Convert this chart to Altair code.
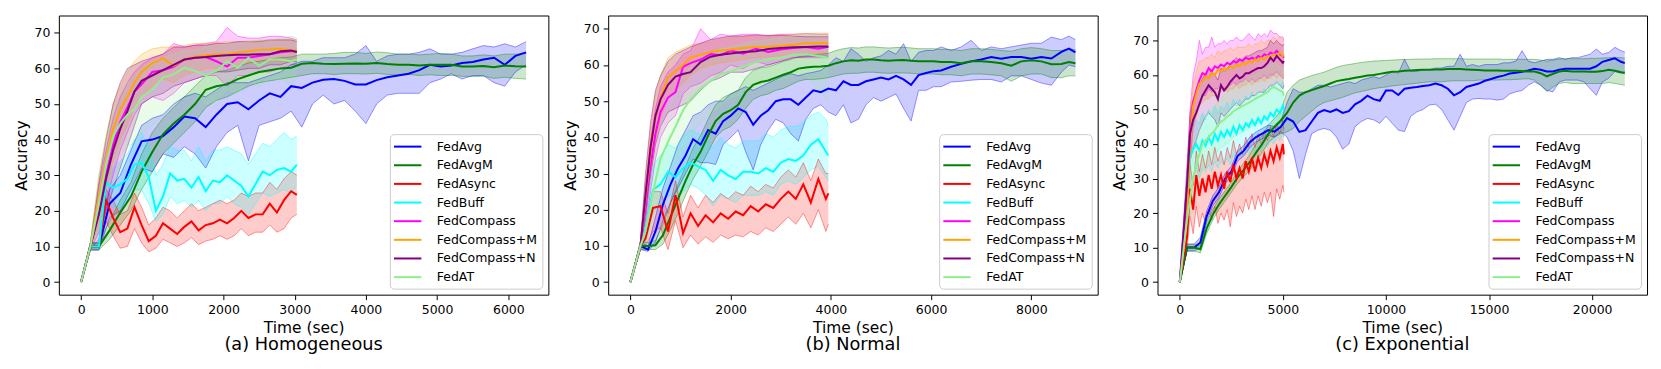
import altair as alt
import pandas as pd

FONT = "DejaVu Sans"
SERIES = ["FedAvg", "FedAvgM", "FedAsync", "FedBuff", "FedCompass",
          "FedCompass+M", "FedCompass+N", "FedAT"]
COLORS = ["#0000ff", "#008000", "#ff0000", "#00ffff", "#ff00ff",
          "#ffa500", "#800080", "#90ee90"]
Y_TICKS = [0, 10, 20, 30, 40, 50, 60, 70]

# ---------------- Panel (a) Homogeneous ----------------
A_T_SYNC = [0, 130, 250, 400, 550, 700, 850, 1000, 1150, 1300, 1450, 1600, 1750, 1900, 2050,
            2200, 2350, 2500, 2650, 2800, 2950, 3100, 3250, 3400, 3550, 3700, 3850, 4000,
            4150, 4300, 4450, 4600, 4750, 4900, 5050, 5200, 5350, 5500, 5650, 5800, 5950,
            6100, 6250]
A_FEDAVG = [0, 10, 10, 22, 25, 33, 39.5, 40, 41, 43.5, 46.5, 46, 43.5, 47, 50,
            50.5, 48.5, 51, 53, 52, 55, 54.5, 56, 56.8, 57, 56.5, 55.5, 55.5, 56.7, 57.5,
            58, 58.5, 59.5, 61, 60.5, 60.8, 61.5, 61.8, 62.5, 63, 61, 63.5, 64.5]
A_FEDAVG_LO = [0, 9, 9, 18, 20, 26, 32, 31, 36, 35, 38, 36, 32, 38, 42,
               44, 34, 44, 45, 46, 48, 43.5, 50, 52.5, 50, 51, 48, 44.5, 50, 52.5,
               53, 53, 53, 56, 57, 58.5, 57, 58, 58, 56, 55, 59, 61]
A_FEDAVG_HI = [0, 11, 11, 26, 30, 37, 44, 46, 47, 50, 52, 53, 52, 54, 56,
               56, 56, 57, 58, 59, 61, 62, 62, 63, 63, 63, 64, 66.4, 62, 63.5,
               64, 64, 64.5, 65.5, 64, 64, 64.5, 65.5, 66.4, 66, 66.9, 66, 67.5]
A_FEDAVGM = [0, 10, 10, 14.5, 19.5, 24, 31, 36.5, 41.5, 44.5, 47, 50, 54, 55, 55.5,
             57, 58, 59, 59.5, 60, 60.2, 61.3, 61.5, 61.3, 61.2, 61.3, 61.4, 61.3, 61.5, 61.2,
             61, 61, 60.8, 61, 61, 61, 60.5, 60.5, 60.7, 60.3, 60.8, 60.6, 60.5]
A_FEDAVGM_LO = [0, 9, 9, 12, 16, 20, 26, 31, 36, 39, 42, 45, 49, 51, 52,
                53.5, 55, 56, 56.5, 57, 57.5, 58, 58.5, 58.5, 58.3, 58.5, 58.5, 58.4, 58.6, 58.3,
                58.2, 58.3, 58, 58.2, 58, 58, 57.8, 57.7, 57.8, 57.2, 57.5, 57.2, 57]
A_FEDAVGM_HI = [0, 11, 11, 17, 23, 28, 36, 42, 46, 49, 52, 55, 58, 59, 59.5,
                60.5, 61.5, 62, 62.5, 63, 63.2, 64, 64, 64, 64.2, 64.5, 64.5, 64.2, 64.6, 64.4,
                64, 64, 63.8, 64, 64.2, 64, 63.5, 63.5, 63.8, 63.5, 64, 64, 64.2]

A_T_ASYNC = [0, 130, 250, 350, 450, 550, 650, 750, 850, 950, 1050, 1150, 1250, 1350, 1450,
             1550, 1650, 1750, 1850, 1950, 2050, 2150, 2250, 2350, 2450, 2550, 2650, 2750,
             2850, 2950, 3030]
A_FEDASYNC = [0, 10, 10, 23, 18, 14, 15, 21, 16, 11.5, 13, 16.5, 15, 13.5, 15.5,
              17, 14.5, 16, 16.5, 17.5, 16.5, 18, 20, 18, 19, 19, 22, 19.5, 23, 25.5, 24.5]
A_FEDASYNC_LO = [0, 9, 9, 17, 13, 9.5, 10, 15, 11, 8.5, 9.5, 12, 11, 10, 11,
                 12.5, 10.5, 11.5, 12, 13, 12, 13, 15, 13, 14, 14, 16, 14, 15, 18, 19]
A_FEDASYNC_HI = [0, 11, 11, 26, 23, 19, 20, 25, 21, 16, 18, 21, 20, 18, 20,
                 22, 20, 21, 22, 23, 22, 23, 25, 24, 25, 25, 28, 26, 29, 31, 30]
A_FEDBUFF = [0, 10, 10, 28, 26.5, 27.5, 29, 33, 33.5, 29.5, 20, 24, 30.5, 28.5, 29,
             26.5, 29.5, 25.5, 28.5, 28, 30, 28.5, 27, 24, 27.5, 31, 30, 31.5, 32, 31, 33]
A_FEDBUFF_LO = [0, 9, 9, 22, 21, 21, 23, 26, 26, 22, 17, 19, 24, 22, 23,
                21, 23, 20, 22, 22, 24, 22, 21, 19, 22, 25, 24, 25, 26, 25, 27]
A_FEDBUFF_HI = [0, 11, 11, 33, 32, 34, 36, 40, 42, 38, 30, 33, 38, 37, 37,
                34, 38, 34, 37, 37, 38, 37, 36, 33, 36, 39, 38, 40, 42, 40, 41]

A_T_COMP = [0, 130, 250, 350, 450, 550, 650, 750, 850, 1000, 1150, 1300, 1450, 1600, 1750,
            1900, 2050, 2200, 2350, 2500, 2650, 2800, 2950, 3030]
A_FEDCOMPASS = [0, 10, 20, 30, 38.5, 45, 49, 53.5, 55.5, 59, 59.5, 60.4, 62.5, 63, 63.2,
                62, 60.5, 63, 63, 63.5, 64, 64.5, 64.8, 64.8]
A_FEDCOMPASS_LO = [0, 9, 14, 22, 30, 37, 42, 47, 50, 52, 51, 53, 56, 57, 58,
                   58, 55, 58, 58, 59, 59, 60, 61, 61]
A_FEDCOMPASS_HI = [0, 11, 27, 37, 46, 52, 56, 59, 61, 63, 64, 67, 66, 66.5, 67,
                   67.5, 71.5, 69, 68.5, 68.5, 69, 69, 68.5, 68]
A_FEDCOMPASS_M = [0, 10, 24, 34, 43, 48.5, 52, 56, 59, 61.5, 62.8, 60.7, 62.5, 63.3, 63.7,
                  64, 64, 64.5, 64.8, 65.2, 65.3, 65.5, 65, 65]
A_FEDCOMPASS_M_LO = [0, 9, 16, 26, 34, 40, 44, 49, 52, 55, 57, 56, 58, 59, 60,
                     60, 60.5, 61, 61.5, 62, 62, 62, 62, 62]
A_FEDCOMPASS_M_HI = [0, 11, 30, 41, 50, 55, 59, 62, 64, 65.5, 66, 66, 66.5, 67, 67,
                     67.2, 67.5, 67.5, 67.7, 67.8, 68, 68, 68, 68]
A_FEDCOMPASS_N = [0, 10, 19, 29, 37, 43, 48, 53.5, 56.5, 58, 59.5, 61, 62.5, 63, 63.2,
                  63.5, 63.7, 63.8, 63.8, 64, 64, 64.8, 65, 64.6]
A_FEDCOMPASS_N_LO = [0, 9, 12, 20, 26, 32, 38, 44, 50, 52, 53, 55, 56, 57, 58,
                     59, 59, 59.5, 60, 60, 61, 61, 62, 62]
A_FEDCOMPASS_N_HI = [0, 11, 28, 40, 50, 56, 60, 61, 62, 63, 64, 66, 66, 66.5, 66.5,
                     67, 67, 67.5, 67.5, 67.5, 68, 68, 68, 67.5]
A_FEDAT = [0, 10, 22, 33, 41, 44.5, 47, 48.5, 52, 54, 57.5, 58.3, 60.2, 59.3, 58,
           59.3, 62, 60.2, 63, 60.7, 62.5, 62.5, 62, 62.5]
A_FEDAT_LO = [0, 9, 15, 25, 33, 36, 38, 39, 42, 44, 47, 49, 52, 53, 50,
              51, 54, 53, 57, 55, 57, 57, 56, 57]
A_FEDAT_HI = [0, 11, 30, 40, 48, 53, 56, 58, 60, 62, 63, 64, 65, 65, 66,
              66.5, 67, 67, 67.5, 68, 68, 68.5, 69, 68.5]

# ---------------- Panel (b) Normal ----------------
B_T_SYNC = [0, 200, 350, 500, 650, 800, 950, 1100, 1250, 1400, 1550, 1700, 1850, 2000, 2150,
            2300, 2450, 2600, 2750, 2900, 3050, 3200, 3350, 3500, 3650, 3800, 3950, 4100,
            4250, 4400, 4550, 4700, 4850, 5000, 5150, 5300, 5450, 5600, 5750, 5900, 6050,
            6200, 6400, 6600, 6800, 7000, 7200, 7400, 7600, 7800, 8000, 8200, 8400, 8600,
            8750, 8880]
B_FEDAVG = [0, 10, 9, 14, 21.5, 27, 31.5, 35, 39.5, 38, 42, 41, 44.5, 46, 48,
            47, 43.5, 46, 47.5, 50, 50.5, 50.5, 49, 51, 53, 52.5, 53.5, 53, 55.5, 54.5,
            54.5, 55.5, 56, 56.5, 56, 57, 56, 54.5, 57.2, 57.8, 58.3, 58.5, 59.5, 60.3, 61,
            61.5, 62.2, 61.7, 62.2, 62.2, 61.7, 62.2, 61.8, 63.6, 64.5, 63.5]
B_FEDAVG_LO = [0, 9, 8.5, 11, 17, 22, 26, 30, 34, 33, 33, 32.5, 38, 40, 42,
               36, 31, 38, 42, 45, 44, 41, 39, 45, 48, 49, 47, 46, 49, 44,
               45, 49, 51, 50, 51, 52, 48, 44.5, 53, 53, 54, 54, 55.3, 55.5, 55.8,
               56, 56, 55.3, 57, 57, 56, 55, 54.4, 58, 60, 59.5]
B_FEDAVG_HI = [0, 11, 10, 18, 26, 32, 38, 42, 46, 47, 49, 50, 50, 52, 53,
               54, 53, 54, 55, 56, 57, 57.6, 57, 57.6, 58, 58.5, 60, 62, 61, 64.5,
               63, 61, 62, 62.5, 64, 63, 65.9, 61, 63.5, 64, 64, 65, 64, 65, 66.8,
               64, 65, 64.5, 65, 65.5, 66, 66, 67.7, 67, 68, 67]
B_FEDAVGM = [0, 10, 10, 10.2, 13, 18, 23, 28, 32.5, 36, 40.5, 44.5, 46.5, 47.5, 49,
             52.5, 54.5, 55.3, 55.7, 56.5, 57.3, 58, 59, 59.3, 59.5, 59.6, 59.8, 60.5, 61, 61.3,
             61.2, 61.5, 61.5, 61.3, 61.2, 61.3, 61.4, 61.2, 61, 61, 61, 60.8, 60.8, 60.5, 61,
             61, 60.8, 60.5, 59.8, 61, 61.3, 61, 60.2, 60.3, 60.8, 60.5]
B_FEDAVGM_LO = [0, 9, 9, 9, 10.5, 14.5, 19, 24, 28.5, 32, 36, 40, 42, 43, 45,
                48, 50.5, 51.5, 52, 53, 53.5, 54.5, 55.5, 56, 56, 56.2, 56.5, 57, 57.5, 57.7,
                57.7, 58, 58, 57.8, 57.7, 57.8, 57.8, 57.7, 57.5, 57.5, 57.5, 57.3, 57.3, 57, 57.5,
                57.5, 57.3, 57, 55.5, 57, 57.5, 57.5, 56.5, 56.5, 57, 57]
B_FEDAVGM_HI = [0, 11, 11, 11.5, 16, 22, 27, 32, 37, 40.5, 45, 49, 51, 52, 53,
                56.5, 58.5, 59.2, 59.5, 60.2, 61, 61.5, 62.3, 62.5, 62.8, 63, 63.2, 64, 64.5, 64.8,
                64.7, 65, 65, 64.8, 64.7, 64.8, 64.9, 64.7, 64.5, 64.5, 64.5, 64.3, 64.3, 64, 64.5,
                64.5, 64.3, 64, 63.8, 64.5, 64.8, 64.5, 64, 64, 64.5, 64.2]

B_T_ASYNC = [0, 200, 300, 450, 600, 750, 900, 1050, 1200, 1350, 1500, 1650, 1800, 1950, 2100,
             2250, 2400, 2550, 2700, 2850, 3000, 3150, 3300, 3450, 3600, 3750, 3900, 3950]
B_FEDASYNC = [0, 10, 12, 20.5, 21, 14, 24, 13.5, 19, 15.5, 18.5, 16.5, 19, 17.5, 19.5,
              18.5, 21, 19.5, 21.5, 20.5, 23, 25, 23, 27, 22, 28.5, 23, 24.5]
B_FEDASYNC_LO = [0, 9, 10, 14, 15, 9, 17, 9.5, 13, 10.5, 12.5, 11, 13, 12, 13,
                 12.5, 14, 13, 15, 14, 16, 18, 16, 19, 15, 20, 14, 16]
B_FEDASYNC_HI = [0, 11, 14, 25, 25, 19, 28, 18, 24, 20.5, 24, 22, 24.5, 23, 25,
                 24, 26.5, 25, 27, 26, 29, 31, 29, 33, 28, 34, 30, 30]
B_FEDBUFF = [0, 10, 15, 25.5, 27, 30.5, 29, 31.5, 33, 32, 31, 28, 31, 29.5, 28.5,
             30.5, 30.5, 30, 31.5, 30.5, 33, 34, 33.5, 35, 38, 39.5, 36, 35]
B_FEDBUFF_LO = [0, 9, 11, 19, 21, 24, 23, 25, 27, 26, 24, 21, 24, 23, 22,
                24, 24, 24, 25, 24, 27, 28, 27, 29, 31, 32, 29, 28]
B_FEDBUFF_HI = [0, 11, 19, 32, 35, 38, 37, 40, 42, 41, 40, 37, 40, 38, 37,
                39, 39, 39, 41, 40, 42, 43, 43, 44, 46, 47, 45, 43]

B_T_COMP = [0, 200, 300, 400, 500, 600, 750, 900, 1050, 1200, 1400, 1600, 1800, 2000, 2250,
            2500, 2750, 3000, 3250, 3500, 3750, 3950]
B_FEDCOMPASS = [0, 10, 20, 32, 41, 47, 51, 52.5, 59.5, 60.5, 61.5, 63, 62.7, 64, 63.1,
                64.5, 63.6, 64.3, 64.7, 65, 64.5, 65]
B_FEDCOMPASS_LO = [0, 9, 14, 25, 34, 40, 44, 46, 52, 54, 55, 57, 58, 60, 59,
                   61, 60, 61, 62, 62, 62, 62]
B_FEDCOMPASS_HI = [0, 11, 26, 39, 48, 54, 58, 60, 63, 64, 70, 67, 68.5, 68, 68.5,
                   68.5, 68, 68.5, 68.5, 68.7, 68.5, 68.5]
B_FEDCOMPASS_M = [0, 10, 23, 36, 45.5, 51, 56.5, 58.3, 60, 62, 62.8, 63.6, 64, 64.3, 64.7,
                  65, 65, 65.3, 65.6, 66, 66, 66]
B_FEDCOMPASS_M_LO = [0, 9, 18, 30, 39, 45, 51, 53, 55, 57, 59, 60, 60.5, 61, 61.5,
                     62, 62.3, 62.5, 62.8, 63, 63.2, 63.2]
B_FEDCOMPASS_M_HI = [0, 11, 28, 42, 52, 57, 62, 63.5, 64.5, 65.5, 66, 66.5, 67, 67.5, 67.8,
                     68, 68.2, 68.3, 68.5, 68.7, 68.8, 68.8]
B_FEDCOMPASS_N = [0, 10, 24, 37, 46, 50.5, 54.5, 56.8, 57.5, 58, 60.8, 62.3, 62.8, 63.2, 63.6,
                  63.8, 64.4, 64.7, 64.9, 65, 65.1, 65.1]
B_FEDCOMPASS_N_LO = [0, 9, 17, 29, 38, 43, 47, 48, 49, 50, 53, 55.5, 56.5, 58, 58,
                     59, 60, 61, 62, 62.3, 62.4, 62.4]
B_FEDCOMPASS_N_HI = [0, 11, 30, 44, 53, 57, 61, 63, 64, 65, 66, 67, 67.5, 68, 68,
                     68.3, 68.2, 68.2, 68, 67.8, 67.8, 67.8]
B_FEDAT = [0, 10, 14, 21, 28, 34, 38.8, 43, 47.5, 50.5, 53.5, 55.5, 57.5, 58.3, 59.5,
           60.8, 61.5, 62, 62.8, 63, 62.5, 62]
B_FEDAT_LO = [0, 9, 10, 15, 20, 25, 29, 33, 37, 40.5, 44, 46.5, 49, 51, 52,
              54.5, 55.5, 56, 57, 57.5, 53, 50]
B_FEDAT_HI = [0, 11, 19, 28, 36, 43, 48, 53, 57, 59.5, 62, 63.5, 64.5, 65, 66,
              66.5, 67, 67.5, 68, 68.5, 68.5, 68.5]

# ---------------- Panel (c) Exponential ----------------
C_T_SYNC = [0, 350, 700, 1000, 1300, 1600, 1900, 2200, 2500, 2800, 3100, 3400, 3700, 4000,
            4300, 4600, 4900, 5200, 5500, 5800, 6100, 6400, 6700, 7000, 7300, 7600, 7900,
            8200, 8500, 8800, 9100, 9400, 9700, 10000, 10300, 10600, 10900, 11200, 11500,
            11800, 12100, 12400, 12700, 13000, 13300, 13600, 13900, 14200, 14500, 14800,
            15100, 15400, 15700, 16000, 16300, 16600, 16900, 17200, 17500, 17800, 18100,
            18400, 18700, 19000, 19300, 19600, 19900, 20200, 20500, 20800, 21100, 21400,
            21580]
C_FEDAVG = [0, 10, 10, 11.5, 19, 23.5, 26, 30, 32, 36.5, 38, 40.5, 42, 43, 44,
            43.6, 45, 47.5, 46.5, 43.5, 44, 46.5, 49, 49.8, 49.3, 50, 49, 49.5, 51.5, 52.5,
            54, 53, 52.5, 55.5, 55.5, 54.2, 56, 56.3, 56.5, 56.8, 57, 57.5, 57, 56, 54.1,
            55, 56.5, 57, 57.5, 58.3, 58.8, 59.4, 59.8, 60.4, 60.6, 60.9, 61.3, 61.8, 61.5, 61,
            61, 61.5, 61.8, 61.8, 61.8, 61.8, 61.8, 62.5, 63.8, 64.3, 64.8, 63.8, 63.4]
C_FEDAVG_LO = [0, 9, 9, 10, 17.5, 22, 24.5, 28.5, 30.5, 35, 36.5, 39, 40.5, 41.5, 42.5,
               42, 43.5, 42, 38, 30, 37, 43, 44, 44.5, 44, 42, 38.5, 40, 45, 46.5,
               47.4, 47, 46, 48, 46, 44, 43.6, 48, 49.3, 50, 51.3, 51.5, 50, 47, 44,
               48, 52, 53, 53.2, 53, 53, 52.7, 53, 54.5, 55.1, 55.5, 57, 58, 57, 55.5,
               55.1, 58, 58.5, 58.5, 58.5, 58, 56, 54.1, 58, 59, 61, 60.5, 61]
C_FEDAVG_HI = [0, 11, 11, 13, 20.5, 25, 27.5, 31.5, 33.5, 38, 39.5, 42, 43.5, 44.5, 45.5,
               45, 46.5, 52, 56, 55, 55, 56, 57, 57, 56.5, 57, 57.5, 58, 57.5, 58.5,
               59, 59.5, 59, 60, 61, 60.5, 64.5, 61, 61, 61.5, 61.5, 62, 62, 62.5, 62.5,
               66, 62.5, 63, 62.5, 63, 63, 63, 63.5, 63.5, 64, 67, 64, 63.5, 64, 64.5,
               64.5, 65, 64.5, 65, 65, 65.5, 66, 67.5, 66, 66.5, 68, 67, 66.6]
C_FEDAVGM = [0, 10, 10, 9.5, 15.5, 19.5, 22.5, 25, 27.5, 30.3, 32.5, 34.8, 37.5, 40, 43,
             45, 46.8, 49, 52, 54, 55, 55.6, 56.2, 56.8, 57.5, 58.2, 58.5, 58.8, 59.2, 59.5,
             59.8, 60, 60.3, 60.6, 60.9, 61, 61.2, 61.3, 61.4, 61.5, 61.5, 61.6, 61.6, 61.7, 61.7,
             61.7, 61.6, 61.5, 61.4, 61.3, 61.3, 61.3, 61.2, 61.2, 61.2, 61.1, 61, 61, 60.5, 59.6,
             60.3, 61, 61.2, 61, 61, 61, 60.9, 60.9, 61.1, 61.5, 61.2, 60.8, 60.5]
C_FEDAVGM_LO = [0, 9, 9, 8.5, 14, 18, 21, 23.5, 26, 28.5, 30.5, 32.5, 35, 37.5, 40.5,
                42, 43, 43.5, 44.5, 46.5, 48, 49.5, 51, 52, 52.5, 53, 53.5, 54.2, 54.8, 55.2,
                55.6, 56, 56.3, 56.5, 56.8, 57, 57.2, 57.4, 57.6, 57.8, 58, 58, 58, 58.2, 58.3,
                58.3, 58.3, 58.3, 58.5, 58.5, 58.5, 58.5, 58.6, 58.6, 58.7, 58.8, 58.9, 58.5, 57, 55.2,
                56.5, 57.5, 57.8, 57.5, 57.5, 57.5, 57.5, 57.5, 57.5, 57.8, 57.5, 57.2, 57]
C_FEDAVGM_HI = [0, 11, 11, 10.5, 17, 21, 24, 26.5, 29, 32, 34.5, 37, 40, 42.5, 45.5,
                47.5, 49.5, 55, 57, 58.5, 59.2, 59.8, 60.3, 60.8, 61.5, 62.2, 62.7, 63, 63.3, 63.6,
                63.8, 64, 64.1, 64.2, 64.3, 64.4, 64.5, 64.5, 64.6, 64.6, 64.6, 64.7, 64.7, 64.7, 64.7,
                64.7, 64.6, 64.6, 64.6, 64.6, 64.6, 64.6, 64.5, 64.5, 64.5, 64.5, 64.5, 64.5, 64.3, 64,
                64.3, 64.6, 64.7, 64.7, 64.7, 64.7, 64.8, 64.8, 64.9, 65, 65.1, 65, 64.8]

C_T_ASYNC = [0, 350, 500, 650, 800, 950, 1100, 1250, 1400, 1550, 1700, 1850, 2000, 2150, 2300,
             2450, 2600, 2750, 2900, 3050, 3200, 3350, 3500, 3650, 3800, 3950, 4100, 4250,
             4400, 4550, 4700, 4850, 5000, 5050]
C_FEDASYNC = [0, 13, 27, 21, 31, 25, 30, 26, 31, 27, 32, 28, 31, 27, 32,
              29, 34, 30, 33, 30, 35, 32, 36, 32, 36, 33, 37, 34, 38, 35, 39, 36, 40, 37]
C_FEDASYNC_LO = [0, 9, 19, 14, 22, 16, 20, 17, 21, 18, 22, 17, 20, 18, 21,
                 16, 23, 19, 22, 20, 24, 21, 25, 21, 25, 22, 26, 23, 26, 19, 27, 24, 28, 26]
C_FEDASYNC_HI = [0, 17, 34, 28, 38, 32, 37, 33, 38, 34, 39, 35, 38, 34, 39,
                 36, 41, 37, 40, 37, 42, 39, 43, 39, 43, 40, 44, 41, 45, 42, 46, 43, 47, 44]
C_FEDBUFF = [0, 22, 36, 38.5, 40, 38, 41, 39.5, 42, 40, 43, 41, 43.5, 42, 44,
             42.5, 45, 43, 45.5, 44, 46, 45, 47, 45.5, 47.5, 46, 48, 47, 49, 48, 50, 49, 51, 50]
C_FEDBUFF_LO = [0, 16, 29, 31, 33, 30, 33, 32, 34, 32, 35, 33, 35, 34, 36,
                34, 37, 35, 37, 36, 38, 37, 39, 37, 39, 38, 40, 39, 41, 40, 42, 41, 43, 42]
C_FEDBUFF_HI = [0, 28, 43, 46, 47, 46, 49, 47, 50, 48, 51, 49, 51, 50, 52,
                50, 53, 51, 53, 52, 54, 53, 55, 53, 55, 54, 56, 55, 57, 56, 58, 57, 58, 57]
C_FEDCOMPASS = [0, 22, 43, 52, 55.5, 58.5, 60.5, 60, 62, 61, 62.5, 62, 63, 62.5, 63.5,
                63, 64, 63.5, 64.5, 64, 65, 64.5, 65, 64.5, 65.5, 65, 66, 65.5, 66.5, 66,
                67, 66, 65.5, 65]
C_FEDCOMPASS_LO = [0, 14, 35, 45, 49, 52, 54, 54, 56, 55, 56, 56, 57, 56, 57,
                   57, 58, 57, 58, 58, 59, 58, 59, 58, 59, 59, 60, 59, 60, 60, 61, 60, 59, 59]
C_FEDCOMPASS_HI = [0, 30, 50, 60, 64, 70, 66, 68, 68, 71, 68, 69, 69, 70, 69,
                   70, 70, 71, 70, 70, 71, 72, 71, 70, 72, 71, 72, 71, 73, 72, 72, 71, 71, 70]
C_FEDCOMPASS_M = [0, 19, 41, 51, 54.5, 57.5, 58, 59.5, 59, 60.5, 60, 61.5, 61, 62, 61.5,
                  62.5, 62, 63, 62.5, 63.5, 63, 64, 63.5, 64.5, 64, 65, 64.5, 65.5, 65, 66,
                  65.5, 66.5, 65.5, 66]
C_FEDCOMPASS_M_LO = [0, 12, 33, 44, 48, 51, 52, 53, 53, 54, 54, 55, 55, 56, 55,
                     56, 56, 57, 56, 57, 57, 58, 57, 58, 58, 59, 58, 59, 59, 60, 59, 60, 59, 60]
C_FEDCOMPASS_M_HI = [0, 26, 48, 57, 61, 64, 64, 65, 65, 66, 65, 67, 66, 67, 67,
                     68, 67, 68, 68, 68, 68, 69, 68, 69, 69, 70, 69, 70, 70, 71, 70, 71, 70, 70]
C_FEDCOMPASS_N = [0, 28, 43, 47, 49, 51.5, 54, 55.5, 57, 56, 55, 53, 57, 55.5, 56.5,
                  58, 59, 60, 59, 59.5, 60.5, 60.5, 61, 61.5, 62, 62, 62.5, 63.5, 65, 64,
                  65.5, 64.5, 63.5, 64]
C_FEDCOMPASS_N_LO = [0, 20, 35, 39, 41, 44, 46, 48, 49, 48, 47, 45, 49, 48, 49,
                     50, 51, 52, 51, 52, 53, 53, 54, 54, 55, 55, 55, 56, 57, 57, 58, 57, 56, 57]
C_FEDCOMPASS_N_HI = [0, 34, 49, 53, 55, 57, 59, 60.5, 62, 61, 60, 58.5, 62, 61, 62,
                     63, 64, 65, 64, 64.5, 65.5, 65.5, 66, 66.5, 67, 67, 67.5, 68, 70, 69,
                     70, 69, 68.5, 69]
C_FEDAT = [0, 18, 24, 30, 34, 37, 40, 41, 42, 43, 44, 45.5, 46.5, 47, 48,
           48.5, 49.5, 50, 50.5, 51, 51.5, 52, 52.5, 53, 53.5, 54, 54.5, 55, 56, 56.5,
           56, 55.5, 55, 54]
C_FEDAT_LO = [0, 13, 18, 23, 27, 30, 33, 34, 35, 36, 37, 38, 39, 39.5, 40,
              41, 42, 42.5, 43, 43.5, 44, 44.5, 45, 45.5, 46, 46.5, 47, 47.5, 48, 48.5,
              48, 47.5, 47, 46]
C_FEDAT_HI = [0, 23, 30, 37, 41, 44, 47, 48, 49, 50, 51, 52.5, 53.5, 54, 55,
              55.5, 56.5, 57, 57.5, 58, 58.5, 59, 59.5, 60, 60.5, 61, 61.5, 62, 63, 63.5,
              63, 62.5, 62, 61]


def make_rows(panel, name, t, mean, lo, hi):
    assert len(t) == len(mean) == len(lo) == len(hi), (panel, name, len(t), len(mean), len(lo), len(hi))
    hexcol = COLORS[SERIES.index(name)]
    return [{"series": name, "hex": hexcol, "t": t[i], "mean": mean[i], "lo": lo[i], "hi": hi[i]}
            for i in range(len(t))]


def frame(panel, specs):
    rows = []
    for spec in specs:
        rows += make_rows(panel, *spec)
    return pd.DataFrame(rows)


DF_A = frame("a", [
    ("FedAvg", A_T_SYNC, A_FEDAVG, A_FEDAVG_LO, A_FEDAVG_HI),
    ("FedAvgM", A_T_SYNC, A_FEDAVGM, A_FEDAVGM_LO, A_FEDAVGM_HI),
    ("FedAsync", A_T_ASYNC, A_FEDASYNC, A_FEDASYNC_LO, A_FEDASYNC_HI),
    ("FedBuff", A_T_ASYNC, A_FEDBUFF, A_FEDBUFF_LO, A_FEDBUFF_HI),
    ("FedCompass", A_T_COMP, A_FEDCOMPASS, A_FEDCOMPASS_LO, A_FEDCOMPASS_HI),
    ("FedCompass+M", A_T_COMP, A_FEDCOMPASS_M, A_FEDCOMPASS_M_LO, A_FEDCOMPASS_M_HI),
    ("FedCompass+N", A_T_COMP, A_FEDCOMPASS_N, A_FEDCOMPASS_N_LO, A_FEDCOMPASS_N_HI),
    ("FedAT", A_T_COMP, A_FEDAT, A_FEDAT_LO, A_FEDAT_HI),
])
DF_B = frame("b", [
    ("FedAvg", B_T_SYNC, B_FEDAVG, B_FEDAVG_LO, B_FEDAVG_HI),
    ("FedAvgM", B_T_SYNC, B_FEDAVGM, B_FEDAVGM_LO, B_FEDAVGM_HI),
    ("FedAsync", B_T_ASYNC, B_FEDASYNC, B_FEDASYNC_LO, B_FEDASYNC_HI),
    ("FedBuff", B_T_ASYNC, B_FEDBUFF, B_FEDBUFF_LO, B_FEDBUFF_HI),
    ("FedCompass", B_T_COMP, B_FEDCOMPASS, B_FEDCOMPASS_LO, B_FEDCOMPASS_HI),
    ("FedCompass+M", B_T_COMP, B_FEDCOMPASS_M, B_FEDCOMPASS_M_LO, B_FEDCOMPASS_M_HI),
    ("FedCompass+N", B_T_COMP, B_FEDCOMPASS_N, B_FEDCOMPASS_N_LO, B_FEDCOMPASS_N_HI),
    ("FedAT", B_T_COMP, B_FEDAT, B_FEDAT_LO, B_FEDAT_HI),
])
DF_C = frame("c", [
    ("FedAvg", C_T_SYNC, C_FEDAVG, C_FEDAVG_LO, C_FEDAVG_HI),
    ("FedAvgM", C_T_SYNC, C_FEDAVGM, C_FEDAVGM_LO, C_FEDAVGM_HI),
    ("FedAsync", C_T_ASYNC, C_FEDASYNC, C_FEDASYNC_LO, C_FEDASYNC_HI),
    ("FedBuff", C_T_ASYNC, C_FEDBUFF, C_FEDBUFF_LO, C_FEDBUFF_HI),
    ("FedCompass", C_T_ASYNC, C_FEDCOMPASS, C_FEDCOMPASS_LO, C_FEDCOMPASS_HI),
    ("FedCompass+M", C_T_ASYNC, C_FEDCOMPASS_M, C_FEDCOMPASS_M_LO, C_FEDCOMPASS_M_HI),
    ("FedCompass+N", C_T_ASYNC, C_FEDCOMPASS_N, C_FEDCOMPASS_N_LO, C_FEDCOMPASS_N_HI),
    ("FedAT", C_T_ASYNC, C_FEDAT, C_FEDAT_LO, C_FEDAT_HI),
])

# legend swatch: a horizontal segment (custom path, scaled by sqrt(size)/2)
LEGEND_SWATCH = "M-2.2,0H2.2"


def panel(df, xdom, xvals, ydom, subtitle):
    base = alt.Chart(df)
    xenc = alt.X("t:Q", scale=alt.Scale(domain=xdom, nice=False, zero=False),
                 axis=alt.Axis(values=xvals, format="d", title="Time (sec)"))

    def yenc(field):
        return alt.Y(f"{field}:Q", scale=alt.Scale(domain=ydom, nice=False, zero=False),
                     axis=alt.Axis(values=Y_TICKS, title="Accuracy"))

    # bands and their edges take their colour straight from the data (no scale, no legend);
    # the mean lines use the color channel, which carries the legend
    band = base.mark_area(fillOpacity=0.2, strokeWidth=0).encode(
        x=xenc, y=yenc("lo"), y2="hi:Q",
        fill=alt.Fill("hex:N", scale=None), detail="series:N")
    edge_lo = base.mark_line(strokeWidth=1, strokeOpacity=0.4).encode(
        x=xenc, y=yenc("lo"), stroke=alt.Stroke("hex:N", scale=None), detail="series:N")
    edge_hi = base.mark_line(strokeWidth=1, strokeOpacity=0.4).encode(
        x=xenc, y=yenc("hi"), stroke=alt.Stroke("hex:N", scale=None), detail="series:N")
    line = base.mark_line(strokeWidth=2).encode(
        x=xenc, y=yenc("mean"),
        color=alt.Color("series:N", scale=alt.Scale(domain=SERIES, range=COLORS),
                        legend=alt.Legend(title=None, symbolType=LEGEND_SWATCH)))
    return alt.layer(band, edge_lo, edge_hi, line).properties(
        width=491, height=280,
        title=alt.TitleParams(subtitle, orient="bottom", anchor="middle", offset=1,
                              fontSize=17.8, font=FONT, fontWeight="normal", color="black"))


pa = panel(DF_A, [-312.5, 6562.5], [0, 1000, 2000, 3000, 4000, 5000, 6000],
           [-3.55, 74.85], "(a) Homogeneous")
pb = panel(DF_B, [-444, 9324], [0, 2000, 4000, 6000, 8000],
           [-3.47, 73.67], "(b) Normal")
pc = panel(DF_C, [-1079, 22659], [0, 5000, 10000, 15000, 20000],
           [-3.63, 77.2], "(c) Exponential")

chart = (
    alt.hconcat(pa, pb, pc, spacing=13)
    .resolve_scale(x="independent", y="independent", color="independent")
    .resolve_legend(color="independent")
    .configure(padding={"left": 5, "top": 6, "right": 5, "bottom": 5}, font=FONT)
    .configure_view(stroke="black", strokeWidth=1)
    .configure_axis(domain=False, grid=False, ticks=True, tickSize=5, tickColor="black",
                    tickWidth=1, labelFont=FONT, labelFontSize=12.5, labelColor="black",
                    labelPadding=4, titleFont=FONT, titleFontSize=15.5,
                    titleFontWeight="normal", titleColor="black")
    .configure_axisX(titlePadding=4, labelAngle=0)
    .configure_axisY(titlePadding=5)
    .configure_legend(orient="bottom-right", offset=6, symbolSize=156,
                      symbolStrokeWidth=2, symbolOffset=5.4, labelFont=FONT, labelFontSize=12.5,
                      labelColor="black", labelOffset=21.7, padding=5, rowPadding=4.7,
                      fillColor="rgba(255,255,255,0.8)", strokeColor="#cccccc",
                      cornerRadius=4, labelLimit=0)
)

chart.save("out.html", embed_options={"renderer": "svg", "actions": False})
